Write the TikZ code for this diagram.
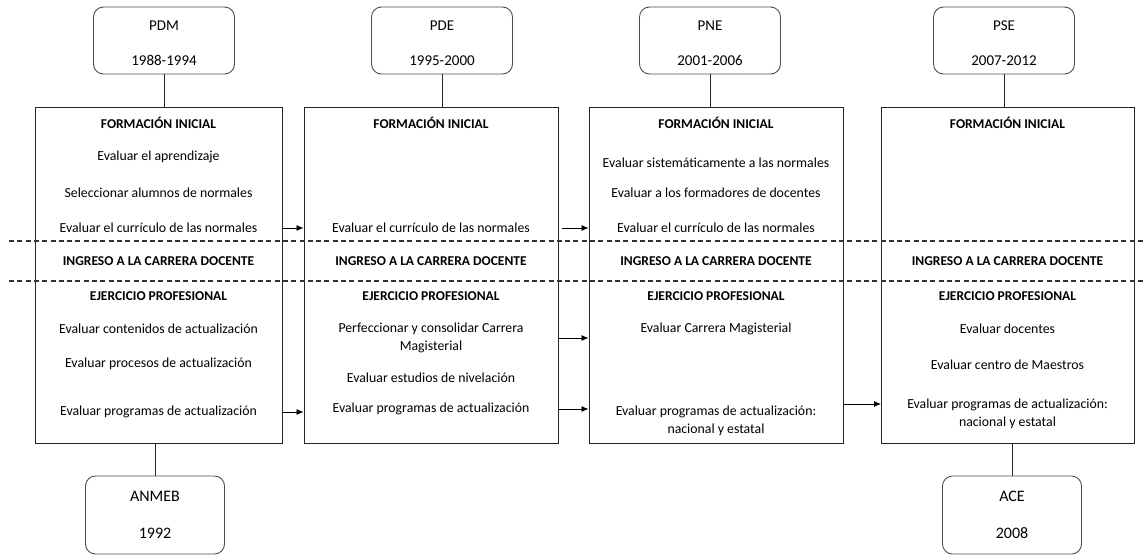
\documentclass[tikz,border=0pt]{standalone}
\usepackage{fontspec}
\setmainfont{Carlito}
\usetikzlibrary{arrows.meta}

\begin{document}
\begin{tikzpicture}[
  x = 1pt, y = -1pt,
  period/.style={rectangle, align=center, rounded corners=10pt, draw=black!70, line width=0.9pt,
    minimum width = 141pt, minimum height = 67pt, text height = 51pt,
    font=\fontsize{15}{17}\selectfont},
  accord/.style={rectangle, align=center, rounded corners=10pt, draw=black!70, line width=0.9pt,
    minimum width = 139pt, minimum height = 78pt,
    font=\fontsize{16}{19}\selectfont},
  phase/.style={rectangle, draw=black!85, line width=0.9pt, minimum height = 336pt},
  head/.style={inner sep=0pt, font=\fontsize{13.5}{17}\selectfont\bfseries},
  item/.style={inner sep=0pt, align=center, font=\fontsize{13.8}{18}\selectfont},
  line/.style={draw, -, line width=0.8pt, black!85},
  arrow/.style={draw, -{Latex[length=7pt, width=6pt]}, line width=0.8pt},
  sep/.style={draw, black!80, line width=1.3pt, dash pattern=on 5pt off 3.3pt}
  ]
\useasboundingbox (0,0) rectangle (1146,555);

\node [period] (pdm) at (164,40.5) {PDM\\[18pt]1988-1994};
\node [period] (pde) at (442,40.5) {PDE\\[18pt]1995-2000};
\node [period] (pne) at (710,40.5) {PNE\\[18pt]2001-2006};
\node [period] (pse) at (1004,40.5) {PSE\\[18pt]2007-2012};

\node [phase, minimum width = 247pt] (box_pdm) at (158.5,275) {};
\node [phase, minimum width = 254pt] (box_pde) at (431,275) {};
\node [phase, minimum width = 254pt] (box_pne) at (716,275) {};
\node [phase, minimum width = 253pt] (box_pse) at (1007.5,275) {};

\node [accord] (anmeb) at (155,515) {ANMEB\\[18pt]1992};
\node [accord] (ace) at (1012,515) {ACE\\[18pt]2008};

% formacion inicial
\node [head] (fi_pdm) at (158.5,123) {FORMACIÓN INICIAL};
\node [head] (fi_pde) at (431,123) {FORMACIÓN INICIAL};
\node [head] (fi_pne) at (716,123) {FORMACIÓN INICIAL};
\node [head] (fi_pse) at (1007.5,123) {FORMACIÓN INICIAL};

\node [item] (apr_pdm) at (158.5,157) {Evaluar el aprendizaje};
\node [item] (sel_pdm) at (158.5,193) {Seleccionar alumnos de normales};
\node [item] (cur_pdm) at (158.5,228) {Evaluar el currículo de las normales};
\node [item] (cur_pde) at (431,228) {Evaluar el currículo de las normales};
\node [item] (sis_pne) at (716,163) {Evaluar sistemáticamente a las normales};
\node [item] (for_pne) at (716,193) {Evaluar a los formadores de docentes};
\node [item] (cur_pne) at (716,228) {Evaluar el currículo de las normales};

% ingreso
\node [head] (ing_pdm) at (158.5,261) {INGRESO A LA CARRERA DOCENTE};
\node [head] (ing_pde) at (431,261) {INGRESO A LA CARRERA DOCENTE};
\node [head] (ing_pne) at (716,261) {INGRESO A LA CARRERA DOCENTE};
\node [head] (ing_pse) at (1007.5,261) {INGRESO A LA CARRERA DOCENTE};

% ejercicio profesional
\node [head] (ep_pdm) at (158.5,296) {EJERCICIO PROFESIONAL};
\node [head] (ep_pde) at (431,296) {EJERCICIO PROFESIONAL};
\node [head] (ep_pne) at (716,296) {EJERCICIO PROFESIONAL};
\node [head] (ep_pse) at (1007.5,296) {EJERCICIO PROFESIONAL};

\node [item] (con_pdm) at (158.5,329) {Evaluar contenidos de actualización};
\node [item] (pro_pdm) at (158.5,364) {Evaluar procesos de actualización};
\node [item] (prog_pdm) at (158.5,412) {Evaluar programas de actualización};
\node [item] (cm_pde) at (431,338) {Perfeccionar y consolidar Carrera\\Magisterial};
\node [item] (niv_pde) at (431,378) {Evaluar estudios de nivelación};
\node [item] (prog_pde) at (431,409) {Evaluar programas de actualización};
\node [item] (cm_pne) at (716,329) {Evaluar Carrera Magisterial};
\node [item] (prog_pne) at (716,421) {Evaluar programas de actualización:\\nacional y estatal};
\node [item] (doc_pse) at (1007.5,329) {Evaluar docentes};
\node [item] (cen_pse) at (1007.5,365) {Evaluar centro de Maestros};
\node [item] (prog_pse) at (1007.5,414) {Evaluar programas de actualización:\\nacional y estatal};
\coordinate (in_pse) at (881,404);

\path [line] (pdm.south) -- (pdm.south |- box_pdm.north);
\path [line] (pde.south) -- (pde.south |- box_pde.north);
\path [line] (pne.south) -- (pne.south |- box_pne.north);
\path [line] (pse.south) -- (pse.south |- box_pse.north);
\path [line] (anmeb.north) -- (anmeb.north |- box_pdm.south);
\path [line] (ace.north) -- (ace.north |- box_pse.south);

\path [arrow] (box_pdm.east |- cur_pdm) -- (box_pde.west |- cur_pdm);
\path [arrow] ([xshift=4pt]box_pde.east |- cur_pde) -- (box_pne.west |- cur_pde);
\path [arrow] (box_pdm.east |- prog_pdm) -- (box_pde.west |- prog_pdm);
\path [arrow] (box_pde.east |- cm_pde) -- (box_pne.west |- cm_pde);
\path [arrow] (box_pde.east |- prog_pde) -- (box_pne.west |- prog_pde);
\path [arrow] (box_pne.east |- in_pse) -- (in_pse);

\path [sep] (9,241) -- (1146,241);
\path [sep] (9,281) -- (1146,281);
\end{tikzpicture}
\end{document}
